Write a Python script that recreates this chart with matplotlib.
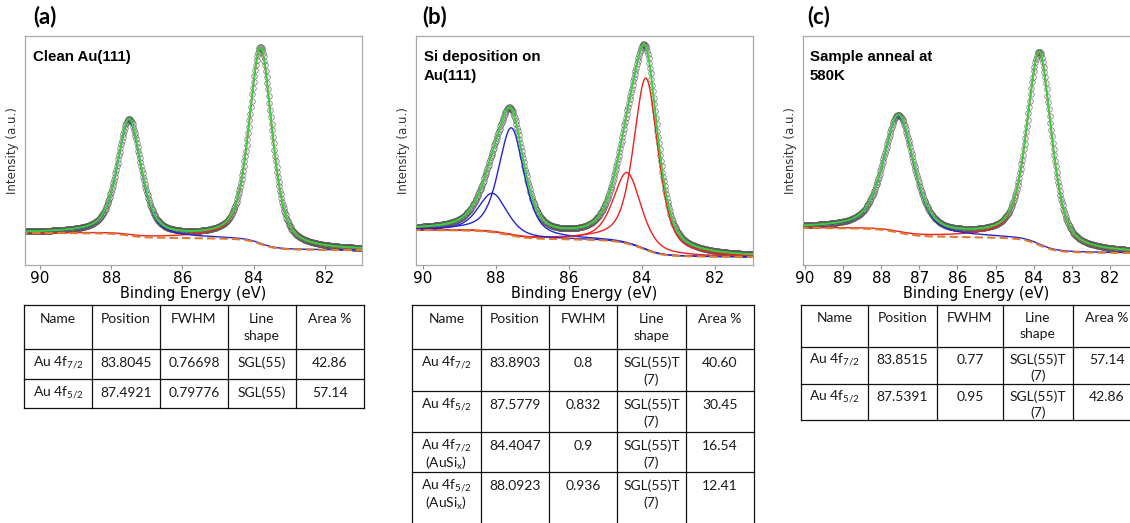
"""XPS Au 4f spectra (clean / Si deposited / annealed) with their fit tables."""

import numpy as np
import matplotlib

matplotlib.use("Agg")
import matplotlib.pyplot as plt

plt.rcParams["mathtext.fontset"] = "custom"
plt.rcParams["mathtext.rm"] = "Lato"
plt.rcParams["mathtext.it"] = "Lato:italic"

W, H = 1130, 523

# fitted components (position eV, FWHM eV, Area %) from the tables,
# peak height and Shirley step (a.u., 0-100 full axis)
pos_a = [83.8045, 87.4921]
fwhm_a = [0.76698, 0.79776]
area_a = [42.86, 57.14]
height_a = [85.6, 50.4]
step_a = [5.3, 2.2]
base_a = 6.5

pos_b = [83.8903, 87.5779, 84.4047, 88.0923]
fwhm_b = [0.8, 0.832, 0.9, 0.936]
area_b = [40.60, 30.45, 16.54, 12.41]
height_b = [75.0, 47.0, 31.0, 17.0]
step_b = [5.5, 3.0, 2.3, 1.0]
base_b = 3.5

pos_c = [83.8515, 87.5391]
fwhm_c = [0.77, 0.95]
area_c = [57.14, 42.86]
height_c = [84.0, 51.0]
step_c = [7.0, 4.0]
base_c = 5.2

names_a = [r"Au 4f$_{7/2}$", r"Au 4f$_{5/2}$"]
names_b = [r"Au 4f$_{7/2}$", r"Au 4f$_{5/2}$",
           "Au 4f$_{7/2}$\n(AuSi$_{\\mathrm{x}}$)",
           "Au 4f$_{5/2}$\n(AuSi$_{\\mathrm{x}}$)"]
names_c = [r"Au 4f$_{7/2}$", r"Au 4f$_{5/2}$"]
shape_a = ["SGL(55)", "SGL(55)"]
shape_b = ["SGL(55)T\n(7)"] * 4
shape_c = ["SGL(55)T\n(7)"] * 2
header = ["Name", "Position", "FWHM", "Line\nshape", "Area %"]

RED, BLUE, GREEN, ORANGE = "#f02020", "#2626d0", "#3ccf3c", "#e07a2c"
GL_MIX = 0.55


def sgl(e, x0, f, h):
    d = 4 * (e - x0) ** 2 / f ** 2
    return h * ((1 - GL_MIX) * np.exp(-np.log(2) * d) + GL_MIX / (1 + d))


def px_axes(fig, l, t, r, b):
    return fig.add_axes([l / W, 1 - b / H, (r - l) / W, (b - t) / H])


def spectrum(ax, pos, fwhm, height, step, base, colors, xlim, tick_step):
    e = np.linspace(80.9, 90.6, 971)
    peaks = [sgl(e, p, f, h) for p, f, h in zip(pos, fwhm, height)]
    bg = np.full_like(e, base)
    for pk, s in zip(peaks, step):
        cum = np.concatenate([[0], np.cumsum((pk[1:] + pk[:-1]) / 2)])
        bg += s * cum / cum[-1]
    env = bg + np.sum(peaks, axis=0)

    ax.plot(e[::2], env[::2], "o", ms=4.0, mfc="none", mec="#555555",
            mew=0.6, alpha=0.7, zorder=1)
    for pk, c in zip(peaks, colors):
        ax.plot(e, pk + bg, color=c, lw=1.0, zorder=3)
    ax.plot(e, bg, color=ORANGE, lw=1.5, ls=(0, (4, 2)), zorder=4)
    ax.plot(e, env, color=GREEN, lw=1.4, zorder=5)

    ax.set_xlim(*xlim)
    ax.set_ylim(0, 100)
    ax.set_xticks(np.arange(82, 90.1, tick_step))
    ax.set_yticks([])
    ax.tick_params(axis="x", labelsize=11, length=3, color="#909090", pad=1)
    for sp in ax.spines.values():
        sp.set_color("#a8a8a8")
        sp.set_linewidth(0.9)
    ax.set_xlabel("Binding Energy (eV)", fontsize=10.5, labelpad=0.5)
    ax.set_ylabel("Intensity (a.u.)", fontsize=8.5, labelpad=4, color="#333333")


def table(ov, xs, ys, rows, first=14, gap=17):
    for x in xs:
        ov.plot([x, x], [ys[0], ys[-1]], color="#111111", lw=0.9)
    for y in ys:
        ov.plot([xs[0], xs[-1]], [y, y], color="#111111", lw=0.9)
    for r, row in enumerate(rows):
        for c, txt in enumerate(row):
            cx = (xs[c] + xs[c + 1]) / 2
            for k, line in enumerate(txt.split("\n")):
                ov.text(cx, ys[r] + first + gap * k, line, ha="center",
                        va="center", fontsize=10, family="Lato", color="#1a1a1a")


def table_rows(names, pos, fwhm, shapes, area):
    rows = [header]
    for n, p, f, s, a in zip(names, pos, fwhm, shapes, area):
        rows.append([n, f"{p:.4f}", str(f), s, f"{a:.2f}"])
    return rows


fig = plt.figure(figsize=(W / 100, H / 100), dpi=100)

ax_a = px_axes(fig, 25, 36, 362, 265)
spectrum(ax_a, pos_a, fwhm_a, height_a, step_a, base_a, [RED, BLUE],
         (90.42, 80.96), 2)
ax_b = px_axes(fig, 416, 36, 753, 265)
spectrum(ax_b, pos_b, fwhm_b, height_b, step_b, base_b, [RED, BLUE, RED, BLUE],
         (90.19, 80.96), 2)
ax_c = px_axes(fig, 803, 36, 1150, 265)
spectrum(ax_c, pos_c, fwhm_c, height_c, step_c, base_c, [RED, BLUE],
         (90.05, 80.95), 1)

ov = fig.add_axes([0, 0, 1, 1])
ov.set_xlim(0, W)
ov.set_ylim(H, 0)
ov.axis("off")

for x, lab in [(33, "(a)"), (422, "(b)"), (807, "(c)")]:
    ov.text(x, 17, lab, ha="left", va="center", fontsize=16,
            fontweight="bold", family="Lato")
for x, lines in [(33, ["Clean Au(111)"]),
                 (424, ["Si deposition on", "Au(111)"]),
                 (810, ["Sample anneal at", "580K"])]:
    for k, line in enumerate(lines):
        ov.text(x, 57 + 19 * k, line, ha="left", va="center", fontsize=10.8,
                fontweight="bold", family="Liberation Sans")

table(ov, [24, 92, 160, 228, 296, 364], [305, 349, 379, 408],
      table_rows(names_a, pos_a, fwhm_a, shape_a, area_a))
table(ov, [412, 481, 549, 617, 686, 754], [305, 349, 391, 432, 472, 535],
      table_rows(names_b, pos_b, fwhm_b, shape_b, area_b))
table(ov, [801, 868, 937, 1003, 1073, 1141], [305, 347, 384, 420],
      table_rows(names_c, pos_c, fwhm_c, shape_c, area_c), first=13, gap=16)

fig.savefig("out.png", dpi=100)
